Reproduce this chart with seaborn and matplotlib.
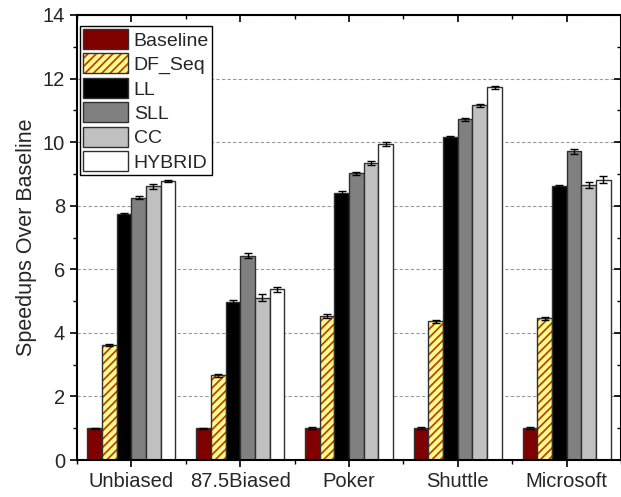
import numpy as np
import pandas as pd
import matplotlib
matplotlib.use("Agg")
import matplotlib.pyplot as plt
import seaborn as sns
from matplotlib.colors import to_rgba
from matplotlib.ticker import MultipleLocator

categories = ["Unbiased", "87.5Biased", "Poker", "Shuttle", "Microsoft"]
methods = ["Baseline", "DF_Seq", "LL", "SLL", "CC", "HYBRID"]

baseline = [1.0, 1.0, 1.0, 1.0, 1.0]
df_seq = [3.62, 2.66, 4.53, 4.36, 4.46]
ll = [7.74, 4.97, 8.41, 10.17, 8.62]
sll = [8.25, 6.42, 9.02, 10.72, 9.71]
cc = [8.61, 5.11, 9.35, 11.16, 8.65]
hybrid = [8.77, 5.37, 9.93, 11.73, 8.82]

err_baseline = [0.02, 0.02, 0.03, 0.03, 0.04]
err_df_seq = [0.03, 0.05, 0.05, 0.05, 0.05]
err_ll = [0.03, 0.06, 0.04, 0.03, 0.03]
err_sll = [0.05, 0.08, 0.05, 0.05, 0.08]
err_cc = [0.07, 0.12, 0.06, 0.05, 0.10]
err_hybrid = [0.03, 0.07, 0.06, 0.05, 0.12]

values = [baseline, df_seq, ll, sll, cc, hybrid]
errors = [err_baseline, err_df_seq, err_ll, err_sll, err_cc, err_hybrid]

colors = ["#800000", "#FFFF80", "#000000", "#808080", "#C0C0C0", "#FFFFFF"]

rows = []
for m, vals in zip(methods, values):
    for c, v in zip(categories, vals):
        rows.append({"Dataset": c, "Method": m, "Speedup": v})
df = pd.DataFrame(rows)

sns.set_style("ticks")
plt.rcParams["font.family"] = ["Liberation Sans", "DejaVu Sans"]
plt.rcParams["hatch.linewidth"] = 1.3

fig = plt.figure(figsize=(6.21, 4.97), dpi=100)
ax = fig.add_axes([77 / 621, 37 / 497, 544 / 621, 445 / 497])

sns.barplot(data=df, x="Dataset", y="Speedup", hue="Method",
            order=categories, hue_order=methods,
            palette=dict(zip(methods, colors)), width=0.81, gap=0,
            errorbar=None, legend=False, ax=ax,
            edgecolor="#303030", linewidth=1.0, saturation=1)

bar_containers = list(ax.containers)
hatch_col = to_rgba("#B8402A")
for i, cont in enumerate(bar_containers):
    for j, p in enumerate(cont.patches):
        if methods[i] == "DF_Seq":
            p.set_hatch("////")
            p._hatch_color = hatch_col
        p.set_zorder(2)
        xc = p.get_x() + p.get_width() / 2
        ax.errorbar(xc, p.get_height(), yerr=errors[i][j], fmt="none",
                    ecolor="black", elinewidth=1.0, capsize=3, capthick=1.0,
                    zorder=3)

ax.set_xlim(-0.5, 4.5)
ax.set_ylim(0, 14)
ax.yaxis.set_major_locator(MultipleLocator(2))
ax.yaxis.set_minor_locator(MultipleLocator(1))
ax.xaxis.set_minor_locator(MultipleLocator(0.5))

ax.yaxis.grid(True, which="major", linestyle=(0, (3, 2)), color="#999999", linewidth=0.8)
ax.set_axisbelow(True)

for s in ax.spines.values():
    s.set_visible(True)
    s.set_linewidth(1.5)
    s.set_color("black")

ax.tick_params(axis="both", which="major", labelsize=14.5, length=5, width=1.2, color="black")
ax.tick_params(axis="both", which="minor", length=3, width=1.0, color="black")
ax.tick_params(axis="x", which="both", direction="out", top=True)
ax.tick_params(axis="y", which="both", direction="out", right=True)
for t in ax.xaxis.get_major_ticks() + ax.xaxis.get_minor_ticks():
    t.tick2line.set_marker(3)
for t in ax.yaxis.get_major_ticks() + ax.yaxis.get_minor_ticks():
    t.tick2line.set_marker(0)

ax.set_xlabel("")
ax.set_ylabel("Speedups Over Baseline", fontsize=15.5, labelpad=4)

handles = [cont.patches[0] for cont in bar_containers]
leg = ax.legend(handles, methods, loc="upper left", bbox_to_anchor=(0.006, 0.975),
                fontsize=14, handlelength=2.3, handleheight=1.2,
                labelspacing=0.2, handletextpad=0.3, borderpad=0.15,
                borderaxespad=0, frameon=True, fancybox=False)
leg.get_frame().set_edgecolor("black")
leg.get_frame().set_linewidth(1.0)
leg.get_frame().set_alpha(1)
for h in leg.legend_handles:
    h.set_edgecolor("#303030")
    h.set_linewidth(1.0)
leg.legend_handles[1]._hatch_color = hatch_col
leg.set_zorder(5)

fig.savefig("out.png", dpi=100)
